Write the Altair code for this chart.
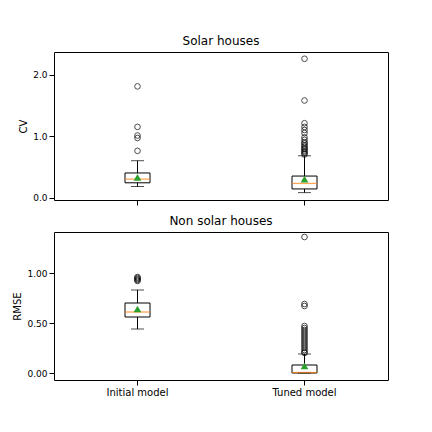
import pandas as pd
import altair as alt

models = ["Initial model", "Tuned model"]

# Solar houses (CV)
solar_low = [0.18, 0.08]
solar_q1 = [0.24, 0.14]
solar_med = [0.30, 0.23]
solar_q3 = [0.40, 0.35]
solar_high = [0.60, 0.68]
solar_mean = [0.33, 0.30]
solar_out_init = [1.81, 1.15, 1.01, 0.97, 0.76]
solar_out_tuned = [2.26, 1.58, 1.21, 1.15, 1.10, 1.05, 0.98, 0.94, 0.90, 0.88,
                   0.85, 0.83, 0.80, 0.79, 0.76, 0.74, 0.72, 0.70]

# Non solar houses (RMSE)
non_low = [0.44, 0.0]
non_q1 = [0.56, 0.0]
non_med = [0.61, 0.005]
non_q3 = [0.70, 0.08]
non_high = [0.83, 0.19]
non_mean = [0.64, 0.07]
non_out_init = [0.96, 0.95, 0.94, 0.93, 0.92]
non_out_tuned = [1.36, 0.69, 0.67, 0.47, 0.45, 0.43, 0.41, 0.39, 0.37, 0.35,
                 0.33, 0.31, 0.29, 0.27, 0.25, 0.23, 0.21, 0.20]


def panel(title, ytitle, low, q1, med, q3, high, mean, out_i, out_t, domain, ticks, fmt, show_labels):
    stats = pd.DataFrame({"model": models, "low": low, "q1": q1, "med": med,
                          "q3": q3, "high": high, "mean": mean})
    outs = pd.DataFrame({"model": [models[0]] * len(out_i) + [models[1]] * len(out_t),
                         "v": out_i + out_t})
    x = alt.X("model:N", title=None, sort=models,
              scale=alt.Scale(paddingOuter=0, paddingInner=0),
              axis=alt.Axis(labels=show_labels, labelAngle=0, domain=False,
                            tickColor="black", labelColor="black", labelFontSize=10))
    yscale = alt.Scale(domain=domain, nice=False, zero=False)
    yaxis = alt.Axis(values=ticks, format=fmt, labelOverlap=False, labelFlush=False,
                     grid=False, domain=False, tickColor="black",
                     labelColor="black", titleColor="black", titleFontWeight="normal")
    base = alt.Chart(stats).encode(x=x)
    lower = base.mark_rule(color="black").encode(
        y=alt.Y("low:Q", scale=yscale, axis=yaxis, title=ytitle), y2="q1:Q")
    upper = base.mark_rule(color="black").encode(y="q3:Q", y2="high:Q")
    box = base.mark_bar(size=25, fill="white", stroke="black", strokeWidth=1).encode(
        y="q1:Q", y2="q3:Q")
    capl = base.mark_tick(color="black", size=13, thickness=1).encode(y="low:Q")
    caph = base.mark_tick(color="black", size=13, thickness=1).encode(y="high:Q")
    medt = base.mark_tick(color="#ff7f0e", size=25, thickness=1.3).encode(y="med:Q")
    mn = base.mark_point(shape="triangle-up", filled=True, color="#2ca02c",
                         size=60, opacity=1).encode(y="mean:Q")
    pts = alt.Chart(outs).mark_point(shape="circle", color="black", size=32,
                                     strokeWidth=1).encode(x=x, y="v:Q")
    return alt.layer(lower, upper, box, capl, caph, medt, mn, pts).properties(
        width=334, height=148,
        title=alt.TitleParams(title, fontSize=12, fontWeight="normal", color="black"))


top = panel("Solar houses", "CV", solar_low, solar_q1, solar_med, solar_q3,
            solar_high, solar_mean, solar_out_init, solar_out_tuned,
            [-0.04, 2.37], [0.0, 0.5, 1.0, 1.5, 2.0], ".1f", False)
bottom = panel("Non solar houses", "RMSE", non_low, non_q1, non_med, non_q3,
               non_high, non_mean, non_out_init, non_out_tuned,
               [-0.07, 1.41], [0.0, 0.25, 0.5, 0.75, 1.0, 1.25], ".2f", True)

chart = alt.vconcat(top, bottom, spacing=8).configure(
    font="DejaVu Sans"
).configure_view(stroke="black", strokeWidth=1).configure_axis(
    labelFontSize=9, titleFontSize=10
).properties(padding={"left": 4, "top": 26, "right": 5, "bottom": 5})

chart.save("out.html", embed_options={"renderer": "svg", "actions": False})
